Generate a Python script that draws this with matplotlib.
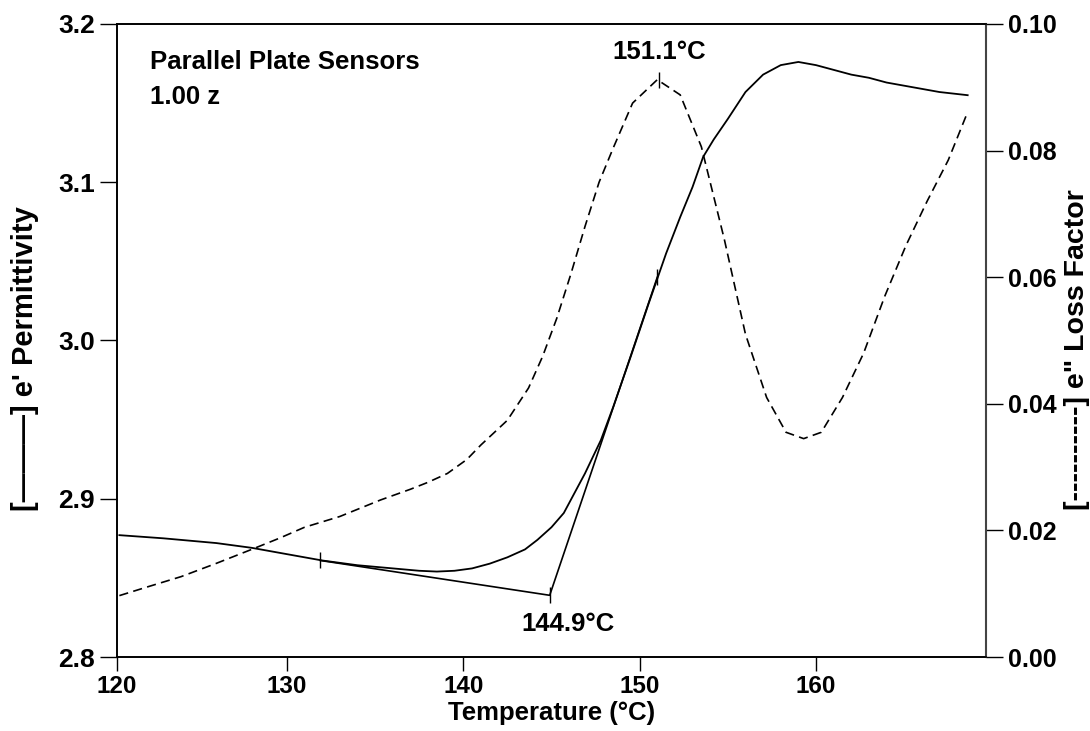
import matplotlib
matplotlib.use("Agg")
import matplotlib.pyplot as plt

plt.rcParams['font.family'] = ['Liberation Sans', 'DejaVu Sans']
plt.rcParams['font.weight'] = 'bold'

# ---- data ----
perm_T = [120.5, 123, 126, 128, 130, 132, 134, 136, 137.5, 138.5, 139.5, 140.5,
          141.5, 142.5, 143.5, 144.2, 145, 145.7, 146.9, 147.8, 148.5, 149.5,
          150.5, 151.5, 152.3, 153, 153.6, 154.2, 155, 156, 157, 158, 159,
          160, 161, 162, 163, 164, 165, 166, 167, 168.6]
perm_val = [2.877, 2.875, 2.872, 2.869, 2.865, 2.861, 2.858, 2.856, 2.8545, 2.854,
            2.8545, 2.856, 2.859, 2.863, 2.868, 2.874, 2.882, 2.891, 2.916, 2.937,
            2.958, 2.99, 3.023, 3.055, 3.078, 3.097, 3.116, 3.127, 3.140, 3.157,
            3.168, 3.174, 3.176, 3.174, 3.171, 3.168, 3.166, 3.163, 3.161, 3.159,
            3.157, 3.155]

loss_T = [120.5, 122, 124, 126, 128, 129.6, 131, 133, 135.3, 137, 138, 139.1, 140.2,
          141.0, 142.5, 143.7, 144.5, 145.3, 146.1, 146.9, 147.7, 148.5, 149.6,
          151.0, 152.3, 153.5, 154.8, 156.0, 157.2, 158.3, 159.3, 160.3, 161.5,
          162.7, 163.9, 165.1, 166.3, 167.5, 168.6]
loss_val = [0.0097, 0.0110, 0.0127, 0.0148, 0.0170, 0.0188, 0.0205, 0.0222, 0.0248,
            0.0265, 0.0276, 0.0290, 0.0312, 0.0335, 0.0374, 0.0425, 0.0475, 0.0535,
            0.0605, 0.0680, 0.0750, 0.0804, 0.0875, 0.0912, 0.0888, 0.0806, 0.0660,
            0.0510, 0.0410, 0.0355, 0.0345, 0.0355, 0.0410, 0.0480, 0.0570, 0.0650,
            0.0720, 0.0785, 0.0861]

# tangent construction for onset
tangent_T = [131.9, 144.9, 151.0]
tangent_val = [2.861, 2.839, 3.040]

onset_label = "144.9°C"
peak_T = 151.1
peak_val = 0.0912
peak_label = "151.1°C"

x_min, x_max = 120.35, 169.64
x_ticks = [120.35, 130, 140, 150, 160]
x_tick_labels = ['120', '130', '140', '150', '160']
y1_ticks = [2.8, 2.9, 3.0, 3.1, 3.2]
y1_tick_labels = ['2.8', '2.9', '3.0', '3.1', '3.2']
y2_ticks = [0.00, 0.02, 0.04, 0.06, 0.08, 0.10]
y2_tick_labels = ['0.00', '0.02', '0.04', '0.06', '0.08', '0.10']

# ---- figure ----
fig = plt.figure(figsize=(10.9, 7.31), dpi=100)
ax = fig.add_axes([0.1071, 0.1012, 0.7975, 0.8660])
ax2 = ax.twinx()

ax.plot(perm_T, perm_val, color='black', lw=1.3, solid_joinstyle='round')
ax.plot(tangent_T, tangent_val, color='black', lw=1.2)
ax.plot(tangent_T, tangent_val, linestyle='none', marker='|', markersize=12,
        markeredgewidth=1.0, color='black')

ax2.plot(loss_T, loss_val, color='black', lw=1.2, linestyle=(0, (5.5, 3.2)))
ax2.plot([peak_T], [peak_val], linestyle='none', marker='|', markersize=12,
         markeredgewidth=1.0, color='black')

ax.annotate(onset_label, xy=(tangent_T[1], tangent_val[1]), xytext=(13, -21),
            textcoords='offset points', ha='center', va='center',
            fontsize=18.5, fontweight='bold')
ax2.annotate(peak_label, xy=(peak_T, peak_val), xytext=(0, 20),
             textcoords='offset points', ha='center', va='center',
             fontsize=18.5, fontweight='bold')

ax.text(0.038, 0.940, "Parallel Plate Sensors", transform=ax.transAxes,
        ha='left', va='center', fontsize=18.5, fontweight='bold')
ax.text(0.038, 0.885, "1.00 z", transform=ax.transAxes,
        ha='left', va='center', fontsize=18.5, fontweight='bold')

ax.set_xlim(x_min, x_max)
ax.set_ylim(2.8, 3.2)
ax2.set_ylim(0.0, 0.10)

ax.set_xticks(x_ticks)
ax.set_xticklabels(x_tick_labels, fontsize=17.5, fontweight='bold')
ax.set_yticks(y1_ticks)
ax.set_yticklabels(y1_tick_labels, fontsize=19, fontweight='bold')
ax2.set_yticks(y2_ticks)
ax2.set_yticklabels(y2_tick_labels, fontsize=18, fontweight='bold')

ax.tick_params(axis='x', direction='out', length=10, width=1.0, pad=3)
ax.tick_params(axis='y', direction='out', length=12.5, width=1.0, pad=3)
ax2.tick_params(axis='y', direction='out', length=12.5, width=1.0, pad=3)

for a in (ax, ax2):
    for s in a.spines.values():
        s.set_linewidth(1.2)
        s.set_color('black')
ax2.spines['right'].set_color('#444444')
ax2.spines['right'].set_linewidth(1.5)

ax.set_xlabel("Temperature (°C)", fontsize=18.5, fontweight='bold', labelpad=2)

fig.text(25 / 1090, 1 - 359 / 731, "[———] e' Permittivity", rotation=90,
         ha='center', va='center', fontsize=21, fontweight='bold')
fig.text(1076.5 / 1090, 1 - 350 / 731, '[----------] e" Loss Factor', rotation=90,
         ha='center', va='center', fontsize=20.5, fontweight='bold')

fig.savefig("out.png", dpi=100)
